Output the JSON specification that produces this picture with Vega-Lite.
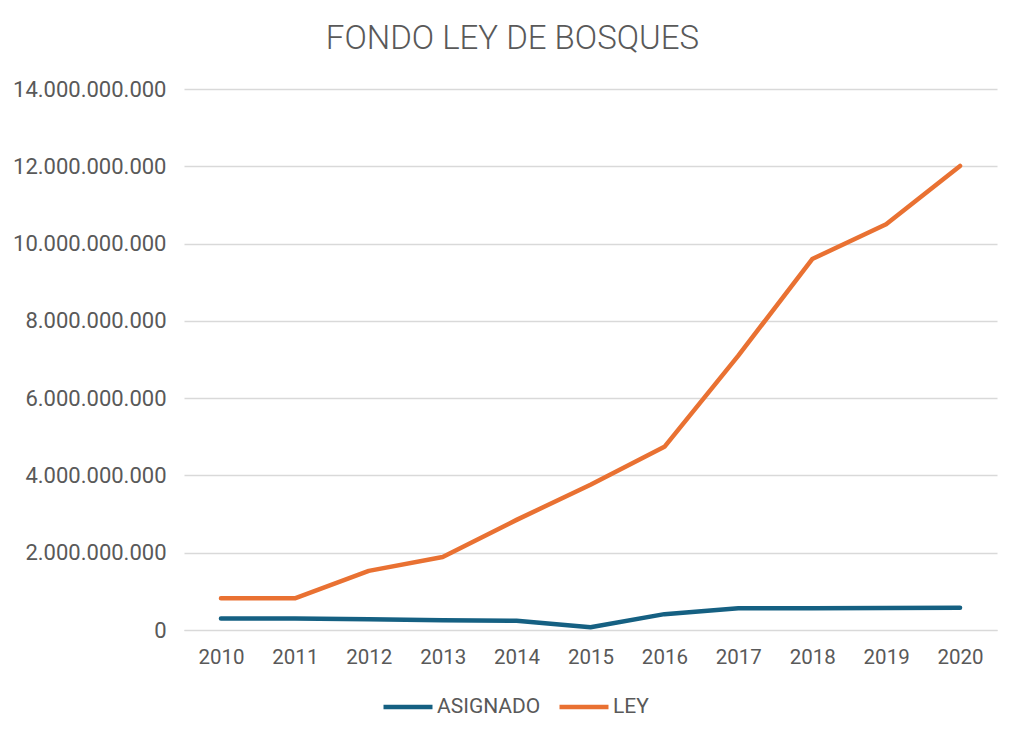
{
  "$schema": "https://vega.github.io/schema/vega-lite/v6.json",
  "width": 813,
  "height": 541,
  "autosize": {"type": "none"},
  "padding": {"left": 184, "top": 89, "right": 27, "bottom": 111},
  "background": "white",
  "config": {
    "locale": {"number": {"decimal": ",", "thousands": ".", "grouping": [3], "currency": ["", ""]}},
    "font": "Roboto",
    "view": {"stroke": null},
    "title": {"font": "Roboto", "fontSize": 33, "fontWeight": 300, "color": "#595959", "anchor": "middle", "offset": 0}
  },
  "title": {"text": "FONDO LEY DE BOSQUES", "dy": -18, "frame": "group", "dx": -78},
  "data": {
    "values": [
      {"anio": "2010", "serie": "ASIGNADO", "valor": 300000000},
      {"anio": "2011", "serie": "ASIGNADO", "valor": 300000000},
      {"anio": "2012", "serie": "ASIGNADO", "valor": 280000000},
      {"anio": "2013", "serie": "ASIGNADO", "valor": 250000000},
      {"anio": "2014", "serie": "ASIGNADO", "valor": 240000000},
      {"anio": "2015", "serie": "ASIGNADO", "valor": 70000000},
      {"anio": "2016", "serie": "ASIGNADO", "valor": 410000000},
      {"anio": "2017", "serie": "ASIGNADO", "valor": 560000000},
      {"anio": "2018", "serie": "ASIGNADO", "valor": 560000000},
      {"anio": "2019", "serie": "ASIGNADO", "valor": 570000000},
      {"anio": "2020", "serie": "ASIGNADO", "valor": 575000000},
      {"anio": "2010", "serie": "LEY", "valor": 820000000},
      {"anio": "2011", "serie": "LEY", "valor": 820000000},
      {"anio": "2012", "serie": "LEY", "valor": 1530000000},
      {"anio": "2013", "serie": "LEY", "valor": 1890000000},
      {"anio": "2014", "serie": "LEY", "valor": 2850000000},
      {"anio": "2015", "serie": "LEY", "valor": 3760000000},
      {"anio": "2016", "serie": "LEY", "valor": 4740000000},
      {"anio": "2017", "serie": "LEY", "valor": 7100000000},
      {"anio": "2018", "serie": "LEY", "valor": 9600000000},
      {"anio": "2019", "serie": "LEY", "valor": 10500000000},
      {"anio": "2020", "serie": "LEY", "valor": 12010000000}
    ]
  },
  "mark": {"type": "line", "strokeWidth": 4.5, "strokeCap": "round", "strokeJoin": "round"},
  "encoding": {
    "x": {
      "field": "anio", "type": "ordinal", "title": null,
      "scale": {"type": "point", "padding": 0.5},
      "axis": {"labelAngle": 0, "labelFontSize": 20.5, "labelColor": "#595959", "labelPadding": 17, "ticks": false, "domainColor": "#D9D9D9", "domainWidth": 1, "grid": false}
    },
    "y": {
      "field": "valor", "type": "quantitative", "title": null,
      "scale": {"domain": [0, 14000000000], "nice": false},
      "axis": {"values": [0, 2000000000, 4000000000, 6000000000, 8000000000, 10000000000, 12000000000, 14000000000], "format": ",.0f", "labelFontSize": 22, "labelColor": "#595959", "labelPadding": 18, "ticks": false, "domain": false, "gridColor": "#D9D9D9", "gridWidth": 1.3}
    },
    "color": {
      "field": "serie", "type": "nominal", "title": null,
      "scale": {"domain": ["ASIGNADO", "LEY"], "range": ["#156082", "#E97132"]},
      "legend": {"orient": "none", "legendX": 197, "legendY": 591, "direction": "horizontal", "symbolType": "stroke", "symbolSize": 2400, "symbolStrokeWidth": 4.5, "labelFontSize": 21, "labelColor": "#595959", "columnPadding": 9, "labelOffset": 2}
    }
  }
}
